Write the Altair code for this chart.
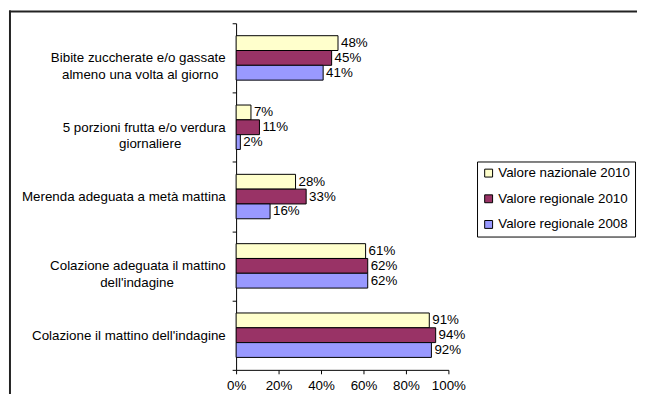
import altair as alt
import pandas as pd

NB = "\u00a0"
ZW = "\u200b"
categories = [
    "Bibite zuccherate e/o gassate\nalmeno una volta al giorno" + NB * 2 + ZW,
    "5 porzioni frutta e/o verdura\ngiornaliere" + NB * 12 + ZW,
    "Merenda adeguata a metà mattina",
    "Colazione adeguata il mattino\ndell'indagine" + NB * 14 + ZW,
    "Colazione il mattino dell'indagine",
]
series = ["Valore nazionale 2010", "Valore regionale 2010", "Valore regionale 2008"]
colors = ["#FFFFCC", "#993366", "#9999FF"]
naz_2010 = [48, 7, 28, 61, 91]
reg_2010 = [45, 11, 33, 62, 94]
reg_2008 = [41, 2, 16, 62, 92]
x_ticks = [0, 0.2, 0.4, 0.6, 0.8, 1.0]

rows = []
for s, vals in zip(series, [naz_2010, reg_2010, reg_2008]):
    for c, v in zip(categories, vals):
        rows.append({"cat": c, "serie": s, "v": v / 100, "lab": f"{v}%"})
df = pd.DataFrame(rows)

FONT = "Liberation Sans"

x_enc = alt.X(
    "v:Q",
    scale=alt.Scale(domain=[0, 1]),
    axis=alt.Axis(
        format="%", values=x_ticks, grid=False, title=None,
        labelFont=FONT, labelFontSize=13.5, labelColor="black",
        labelPadding=5, tickSize=4, tickColor="black", domainColor="black",
        labelOverlap=False, labelFlush=False,
    ),
)
y_enc = alt.Y(
    "cat:N",
    sort=categories,
    scale=alt.Scale(paddingInner=0, paddingOuter=0),
    axis=alt.Axis(
        title=None, labelFont=FONT, labelFontSize=13.5, labelColor="black",
        labelAlign="right", labelPadding=7, tickSize=4, tickColor="black",
        domainColor="black", tickBand="extent", labelLimit=400,
        labelExpr="split(datum.label, '\\n')", labelLineHeight=17,
    ),
)
yoff_enc = alt.YOffset(
    "serie:N", sort=series, scale=alt.Scale(paddingInner=0, paddingOuter=0.84)
)

bars = alt.Chart(df).mark_bar(stroke="black", strokeWidth=1).encode(
    x=x_enc,
    y=y_enc,
    yOffset=yoff_enc,
    color=alt.Color(
        "serie:N",
        sort=series,
        scale=alt.Scale(domain=series, range=colors),
        legend=alt.Legend(
            title=None, orient="none", legendX=244, legendY=140,
            strokeColor="black", fillColor="white", padding=5,
            symbolType="square", symbolSize=64, symbolStrokeColor="black",
            symbolStrokeWidth=1, labelFont=FONT, labelFontSize=13.5,
            labelColor="black", rowPadding=11, labelOffset=3,
        ),
    ),
)

texts = alt.Chart(df).mark_text(
    align="left", baseline="middle", dx=3, font=FONT, fontSize=13.5, color="black"
).encode(x="v:Q", y=alt.Y("cat:N", sort=categories), yOffset=alt.YOffset("serie:N", sort=series), text="lab:N")

frame_df = pd.DataFrame({"k": [0]})
top_line = alt.Chart(frame_df).mark_rule(color="#222222", strokeWidth=2).encode(
    x=alt.value(-230), x2=alt.value(406), y=alt.value(-12)
)
left_line = alt.Chart(frame_df).mark_rule(color="#222222", strokeWidth=2).encode(
    x=alt.value(-229), y=alt.value(-13), y2=alt.value(388)
)

chart = (
    alt.layer(bars, texts, top_line, left_line)
    .properties(
        width=215, height=351,
        autosize=alt.AutoSizeParams(type="none"),
        padding={"left": 231, "top": 13, "right": 191, "bottom": 22},
        background="white",
    )
    .configure_view(stroke=None)
)

chart.save("out.html", embed_options={"renderer": "svg", "actions": False})
